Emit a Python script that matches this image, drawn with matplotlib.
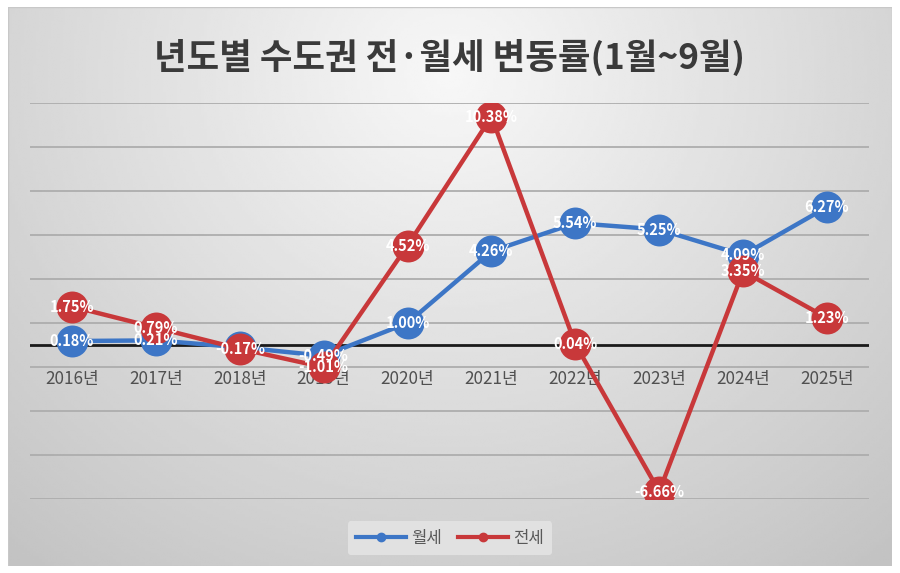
import numpy as np
import matplotlib
matplotlib.use("Agg")
import matplotlib.pyplot as plt
from matplotlib.lines import Line2D
from matplotlib.patches import Rectangle

plt.rcParams['font.family'] = ['Noto Sans CJK KR', 'DejaVu Sans']

years = ['2016년', '2017년', '2018년', '2019년', '2020년',
         '2021년', '2022년', '2023년', '2024년', '2025년']
monthly_rent = [0.18, 0.21, -0.10, -0.49, 1.00, 4.26, 5.54, 5.25, 4.09, 6.27]   # 월세
jeonse = [1.75, 0.79, -0.17, -1.01, 4.52, 10.38, 0.04, -6.66, 3.35, 1.23]       # 전세
# the reference shows no label for 월세 in 2018 (hidden under the 전세 one)
rent_label_shown = [True, True, False, True, True, True, True, True, True, True]
title = '년도별 수도권 전·월세 변동률(1월~9월)'

blue = '#3d76c6'
red = '#c8383a'

fig = plt.figure(figsize=(9, 5.73), dpi=100)
fig.patch.set_facecolor('white')

# chart box with a soft radial grey gradient
bg = fig.add_axes([8 / 900, 1 - 566 / 573, 884 / 900, 559 / 573])
bg.set_axis_off()
gx, gy = np.meshgrid(np.linspace(0, 1, 300), np.linspace(0, 1, 200))
r = np.sqrt(((gx - 0.5) / 0.75) ** 2 + ((gy - 0.12) / 1.1) ** 2)
shade = np.clip(0.97 - 0.2 * r, 0.76, 0.975)
bg.imshow(shade, cmap='gray', vmin=0, vmax=1, aspect='auto',
          extent=[0, 1, 1, 0], interpolation='bilinear')
bg.set_xlim(0, 1)
bg.set_ylim(1, 0)
bg.add_patch(Rectangle((0, 0), 1, 1, fill=False, edgecolor='#c8c8c8', lw=1.0,
                       transform=bg.transAxes))

ax = fig.add_axes([30 / 900, 1 - 499 / 573, 839 / 900, 396 / 573])
ax.patch.set_alpha(0)
x = np.arange(len(years))
ax.set_xlim(-0.5, len(years) - 0.5)
ax.set_ylim(-7, 11)

for g in range(-7, 12, 2):
    ax.axhline(g, color='#adadad', lw=1.3, zorder=1)
ax.axhline(0, color='#1a1a1a', lw=2.0, zorder=2)

ax.plot(x, monthly_rent, color=blue, lw=3.2, marker='o', markersize=23,
        markeredgewidth=0, zorder=3, solid_capstyle='round')
ax.plot(x, jeonse, color=red, lw=3.2, marker='o', markersize=23,
        markeredgewidth=0, zorder=4, solid_capstyle='round')

for xi, v, show in zip(x, monthly_rent, rent_label_shown):
    if show:
        ax.text(xi, v, f'{v:.2f}%', color='white', fontsize=10.5, fontweight='bold',
                ha='center', va='center', zorder=6)
for xi, v in zip(x, jeonse):
    ax.text(xi, v, f'{v:.2f}%', color='white', fontsize=10.5, fontweight='bold',
            ha='center', va='center', zorder=6)

for s in ax.spines.values():
    s.set_visible(False)
ax.set_yticks([])
ax.set_xticks(x)
ax.set_xticklabels(years)
ax.spines['bottom'].set_position(('data', 0))
ax.tick_params(axis='x', length=0, pad=18, labelcolor='#505050', labelsize=12.3)
for lbl in ax.get_xticklabels():
    lbl.set_zorder(5)
    lbl.set_fontweight('medium')

fig.text(0.5, 1 - 57 / 573, title, ha='center', va='center', fontsize=25.5,
         fontweight='bold', color='#3a3a3a')

handles = [Line2D([0], [0], color=blue, lw=3, marker='o', markersize=6),
           Line2D([0], [0], color=red, lw=3, marker='o', markersize=6)]
leg = fig.legend(handles, ['월세', '전세'], loc='center', ncol=2,
                 bbox_to_anchor=(0.5, 1 - 538 / 573), frameon=True,
                 fontsize=12, handlelength=3.0, columnspacing=1.0,
                 handletextpad=0.3, borderpad=0.5)
leg.get_frame().set_facecolor('#e6e6e6')
leg.get_frame().set_edgecolor('none')
leg.get_frame().set_alpha(0.8)
for t in leg.get_texts():
    t.set_color('#595959')
    t.set_fontweight('medium')

fig.savefig('out.png', dpi=100)
